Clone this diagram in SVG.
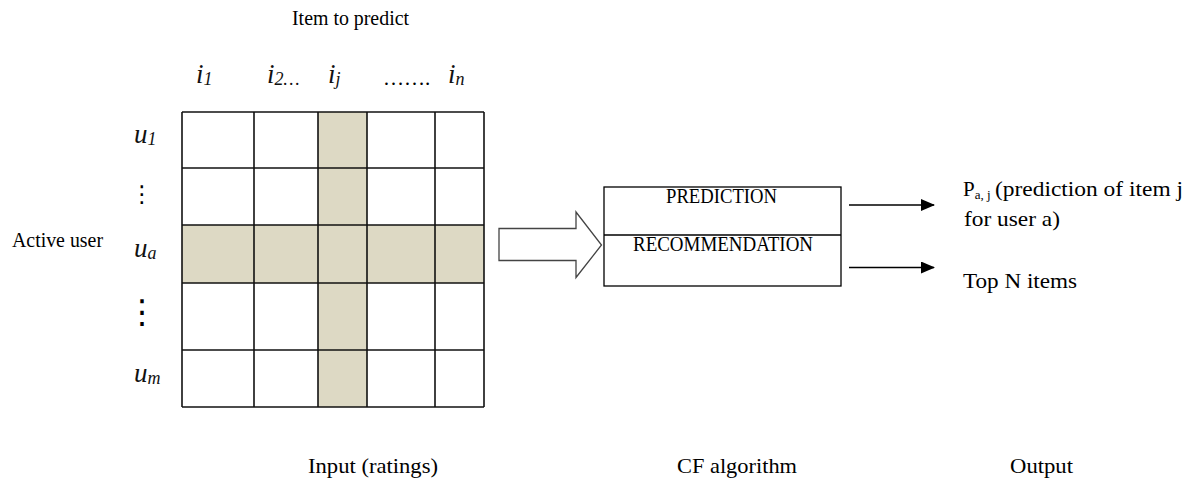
<svg xmlns="http://www.w3.org/2000/svg" width="1192" height="479" viewBox="0 0 1192 479">
  <style>
    .lbl { font-family: "Liberation Serif", "Times New Roman", serif; font-size: 21px; fill: #000; }
    .var { font-family: "Liberation Serif", "Times New Roman", serif; font-style: italic; font-size: 27px; fill: #111; }
    .sub { font-size: 18px; }
    .dots { font-family: "DejaVu Sans", sans-serif; fill: #000; }
    .hl { fill: #DDD9C4; }
    .line { stroke: #000; stroke-width: 1.3; fill: none; }
    .grid { stroke: #111; stroke-width: 1.6; fill: none; }
    .box { fill: #fff; stroke: #000; stroke-width: 1.3; }
  </style>
  <defs>
    <marker id="tri" markerWidth="14" markerHeight="12" refX="13" refY="6" orient="auto" markerUnits="userSpaceOnUse">
      <path d="M0,0 L14,6 L0,12 Z" fill="#000"/>
    </marker>
  </defs>
  <rect width="1192" height="479" fill="#fff"/>

  <!-- rating matrix: users x items, active user row and target item column shaded -->
  <g id="matrix">
    <rect x="182" y="112" width="302" height="295" fill="#fff"/>
    <rect class="hl" x="318" y="112" width="49" height="295"/>
    <rect class="hl" x="182" y="225" width="302" height="58"/>
    <g class="grid">
      <line x1="182" y1="112" x2="484" y2="112"/>
      <line x1="182" y1="168" x2="484" y2="168"/>
      <line x1="182" y1="225" x2="484" y2="225"/>
      <line x1="182" y1="283" x2="484" y2="283"/>
      <line x1="182" y1="350" x2="484" y2="350"/>
      <line x1="182" y1="407" x2="484" y2="407"/>
      <line x1="182" y1="112" x2="182" y2="407"/>
      <line x1="254" y1="112" x2="254" y2="407"/>
      <line x1="318" y1="112" x2="318" y2="407"/>
      <line x1="367" y1="112" x2="367" y2="407"/>
      <line x1="435" y1="112" x2="435" y2="407"/>
      <line x1="484" y1="112" x2="484" y2="407"/>
    </g>
  </g>

  <!-- item labels -->
  <g id="items">
    <text class="lbl" x="292" y="25" font-size="18" textLength="117" lengthAdjust="spacingAndGlyphs">Item to predict</text>
    <text class="var" x="196" y="83">i<tspan class="sub" dy="2">1</tspan></text>
    <text class="var" x="267" y="83">i<tspan class="sub" dy="2">2…</tspan></text>
    <text class="var" x="328" y="83">i<tspan class="sub" dy="2">j</tspan></text>
    <text class="lbl" x="383" y="85" font-size="14">…….</text>
    <text class="var" x="448" y="83">i<tspan class="sub" dy="2">n</tspan></text>
  </g>

  <!-- user labels -->
  <g id="users">
    <text class="lbl" x="12" y="247" font-size="18" textLength="91" lengthAdjust="spacingAndGlyphs">Active user</text>
    <text class="var" x="134" y="143">u<tspan class="sub" dy="2">1</tspan></text>
    <text class="dots" x="142" y="202" font-size="23" text-anchor="middle">⋮</text>
    <text class="var" x="134" y="257">u<tspan class="sub" dy="2">a</tspan></text>
    <text class="dots" x="142" y="323" font-size="33" text-anchor="middle">⋮</text>
    <text class="var" x="134" y="382">u<tspan class="sub" dy="2">m</tspan></text>
  </g>

  <!-- CF algorithm block -->
  <g id="cf-algorithm">
    <rect class="box" x="604" y="187" width="237" height="99"/>
    <line class="line" x1="604" y1="235" x2="841" y2="235"/>
    <text class="lbl" x="666" y="203" font-size="16" textLength="111" lengthAdjust="spacingAndGlyphs">PREDICTION</text>
    <text class="lbl" x="633" y="251" font-size="16" textLength="180" lengthAdjust="spacingAndGlyphs">RECOMMENDATION</text>
  </g>

  <!-- outputs -->
  <g id="output-prediction">
    <text class="lbl" x="963" y="196">P<tspan font-size="13" dy="3">a, j</tspan></text>
    <text class="lbl" x="995" y="196" textLength="188" lengthAdjust="spacingAndGlyphs">(prediction of item j</text>
    <text class="lbl" x="964" y="226" textLength="96" lengthAdjust="spacingAndGlyphs">for user a)</text>
  </g>
  <g id="output-topn">
    <text class="lbl" x="963" y="288" textLength="114" lengthAdjust="spacingAndGlyphs">Top N items</text>
  </g>

  <!-- connectors -->
  <g id="connectors">
    <path d="M499,228.5 L576,228.5 L576,212 L601.5,245 L576,277.5 L576,260.5 L499,260.5 Z" fill="#fff" stroke="#444" stroke-width="1.3"/>
    <line class="line" x1="849" y1="205" x2="934" y2="205" marker-end="url(#tri)"/>
    <line class="line" x1="849" y1="267.5" x2="934" y2="267.5" marker-end="url(#tri)"/>
  </g>

  <!-- section captions -->
  <g id="captions">
    <text class="lbl" x="308" y="473" textLength="130" lengthAdjust="spacingAndGlyphs">Input (ratings)</text>
    <text class="lbl" x="677" y="473" textLength="120" lengthAdjust="spacingAndGlyphs">CF algorithm</text>
    <text class="lbl" x="1010" y="473" textLength="63" lengthAdjust="spacingAndGlyphs">Output</text>
  </g>
</svg>
